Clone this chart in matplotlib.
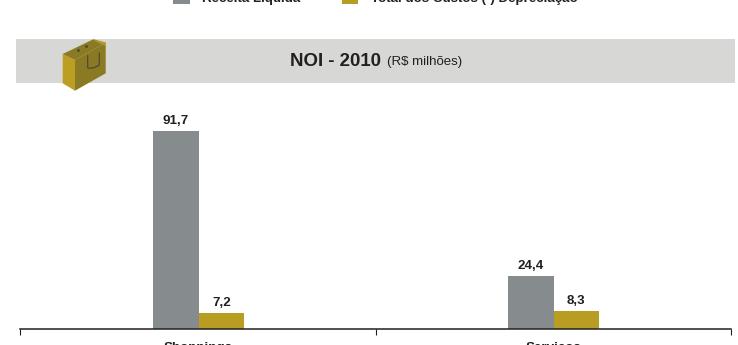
import matplotlib.pyplot as plt
from matplotlib.patches import Polygon, Rectangle
from matplotlib.path import Path
from matplotlib.patches import PathPatch

plt.rcParams['font.family'] = ['Liberation Sans', 'DejaVu Sans']

categories = ['Shoppings', 'Serviços']
receita = [91.7, 24.4]
custos = [7.2, 8.3]
series_names = ['Receita Líquida', 'Total dos Custos (-) Depreciação']

GRAY = '#868b8d'
GOLD = '#b99c22'
INK = '#231f20'
W, H = 738, 345

fig = plt.figure(figsize=(W / 100, H / 100), dpi=100)

# fundo em pixels: faixa do titulo e sacola
bg = fig.add_axes([0, 0, 1, 1])
bg.set_xlim(0, W)
bg.set_ylim(H, 0)
bg.axis('off')
bg.add_patch(Rectangle((16, 39), 719, 44, color='#d7d7d5', lw=0))

bg.add_patch(Polygon([(62.7, 54), (75, 60), (75, 90.7), (62.7, 83.3)], color='#bb9e22', lw=0))
bg.add_patch(Polygon([(75, 60), (105.7, 42.7), (105.7, 73.3), (75, 90.7)], color='#8a7a24', lw=0))
bg.add_patch(Polygon([(62.7, 54), (93.3, 39.3), (105.7, 42.7), (75, 60)], color='#8a7a24', lw=0))
bg.add_patch(Polygon([(93.3, 39.3), (105.7, 42.7), (105.7, 46), (96, 41.5)], color='#b59a24', lw=0))
handle = Path([(87.7, 55), (87.7, 68), (93.5, 69), (99.3, 65), (99.3, 52.5)],
              [Path.MOVETO, Path.LINETO, Path.CURVE3, Path.CURVE3, Path.LINETO])
bg.add_patch(PathPatch(handle, fc='none', ec='#4a4630', lw=0.8))
bg.plot([77.7, 85.7], [50, 45.7], ls='none', marker='o', ms=1, color='#4a4630')

bg.text(290, 62, 'NOI - 2010', fontsize=13.4, fontweight='bold', color=INK, va='center', ha='left')
bg.text(387, 62.5, '(R$ milhões)', fontsize=9.5, color=INK, va='center', ha='left')

# grafico de barras
ax = fig.add_axes([20 / W, 1 - 329 / H, 711 / W, 198 / H])
ax.patch.set_alpha(0)
x = range(len(categories))
width = 0.129
b1 = ax.bar([i - width / 2 for i in x], receita, width, color=GRAY, label=series_names[0])
b2 = ax.bar([i + width / 2 for i in x], custos, width, color=GOLD, label=series_names[1])
ax.set_xlim(-0.503, 1.5)
ax.set_ylim(0, 91.7)

for bars in (b1, b2):
    labels = [f'{v:.1f}'.replace('.', ',') for v in bars.datavalues]
    ax.bar_label(bars, labels=labels, padding=3, fontsize=9.6, fontweight='bold', color=INK, clip_on=False)

for s in ['top', 'left', 'right']:
    ax.spines[s].set_visible(False)
ax.spines['bottom'].set_color(INK)
ax.spines['bottom'].set_linewidth(1.1)
ax.set_yticks([])
ax.set_xticks([-0.503, 0.5, 1.5])
ax.set_xticklabels([])
ax.tick_params(axis='x', length=4, width=0.8, color=INK)
ax.set_xticks(list(x), labels=categories, minor=True)
ax.tick_params(axis='x', which='minor', length=0, pad=9, labelsize=9.6, labelcolor=INK)
for t in ax.get_xticklabels(minor=True):
    t.set_fontweight('bold')

fig.legend(handles=[b1, b2], loc='center', bbox_to_anchor=(375.5 / W, 1 + 2.6 / H), ncol=2, frameon=False,
           prop={'size': 9.6, 'weight': 'bold'}, labelcolor=INK, handlelength=1.22, handleheight=1.2,
           handletextpad=0.95, columnspacing=3.1, borderpad=0)

fig.savefig('out.png', dpi=100)
